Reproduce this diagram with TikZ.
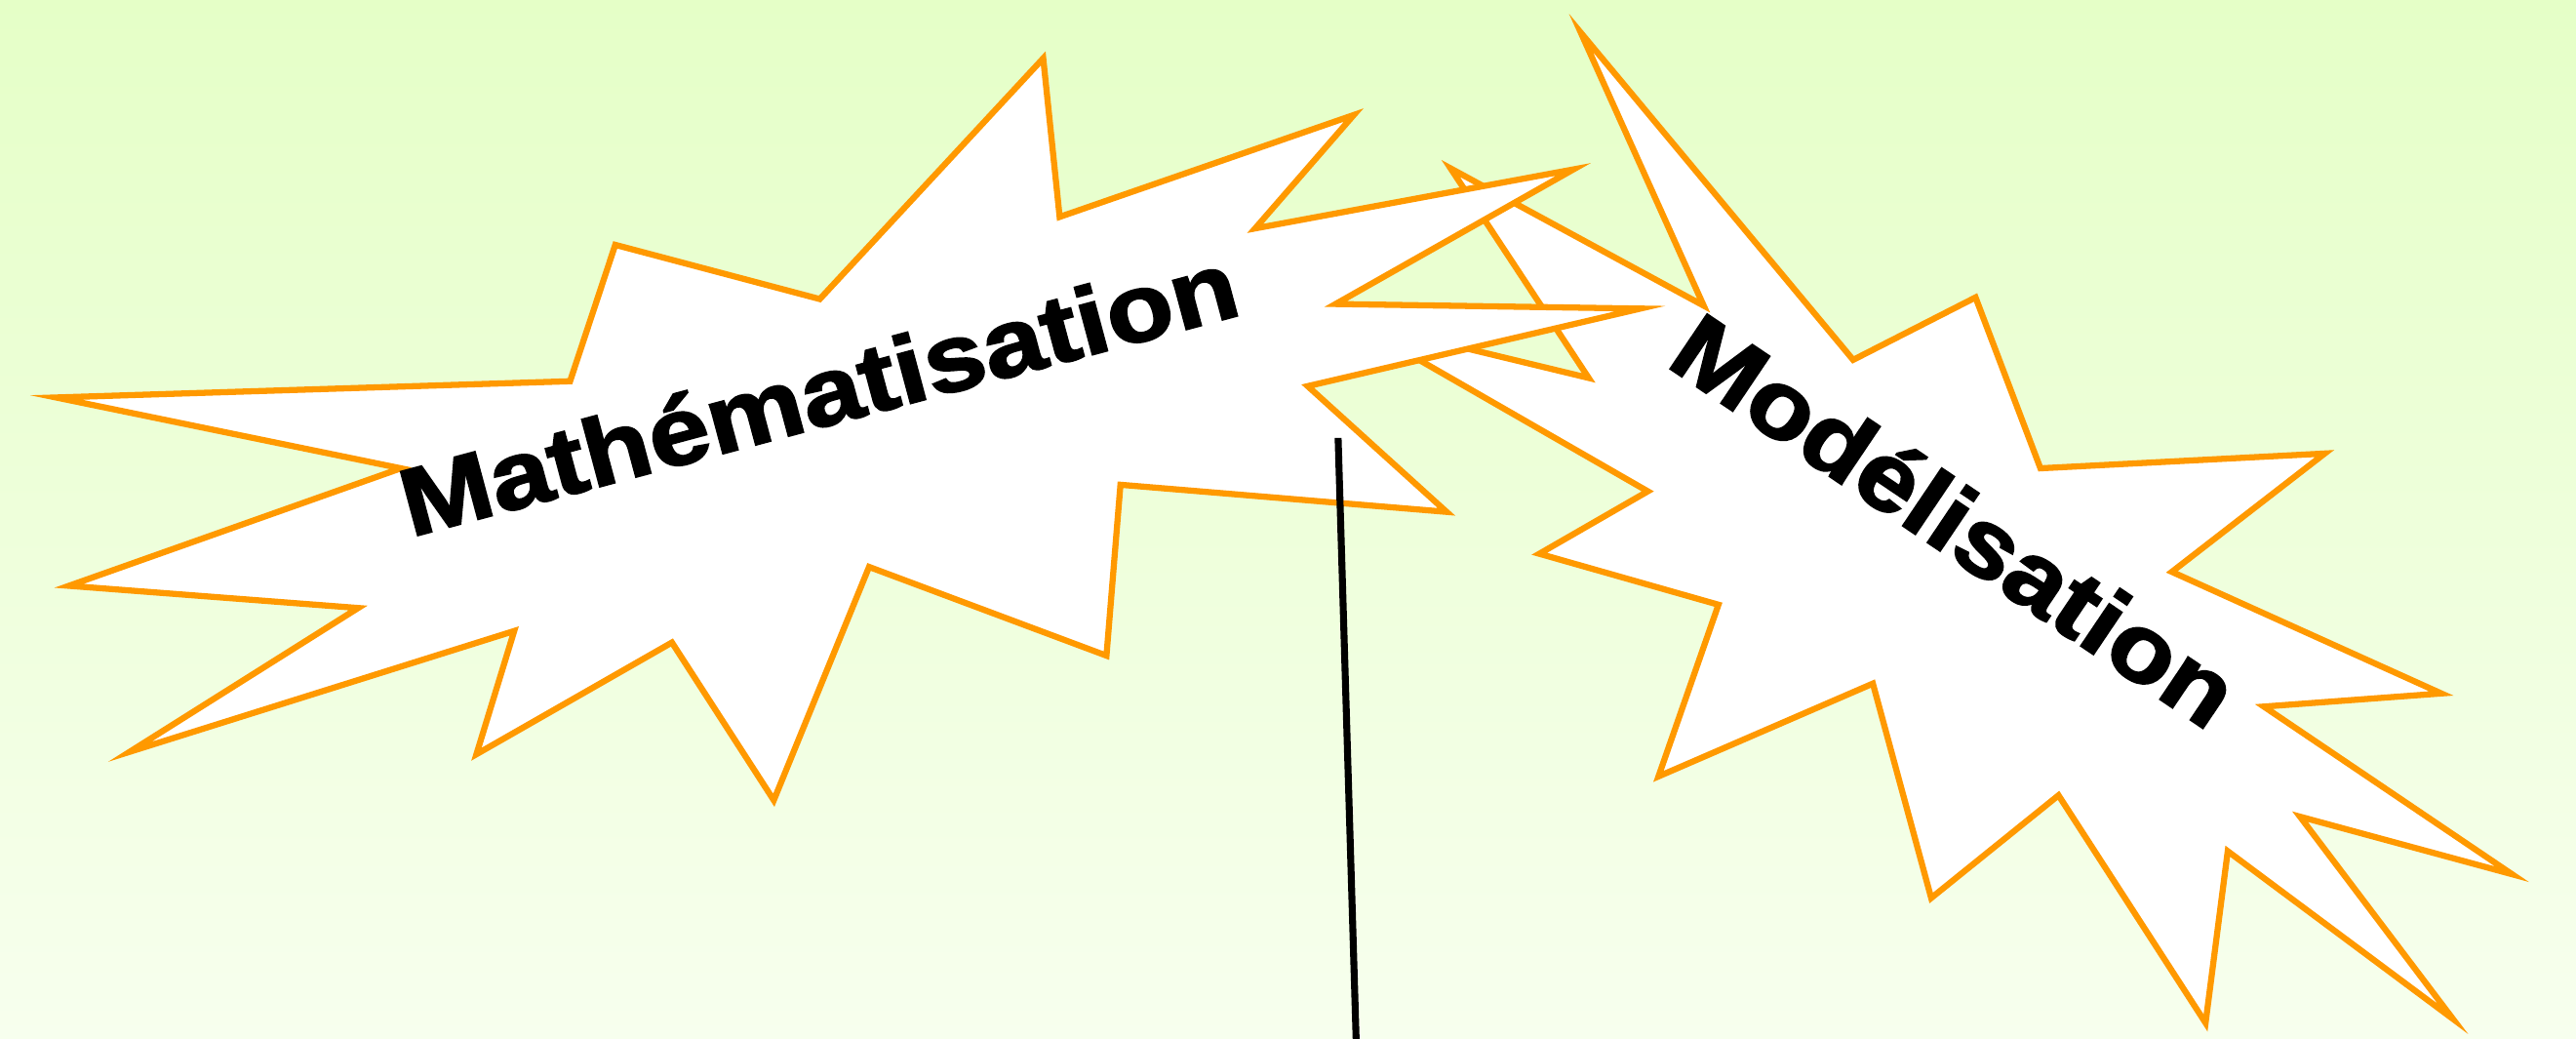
\documentclass[tikz,border=0pt]{standalone}
\usepackage{fontspec}
\usepackage{graphicx}
\setmainfont{Liberation Sans}
\newfontfamily\heavyfont[FakeBold=2]{Liberation Sans Bold}
\definecolor{orng}{RGB}{255,153,0}
\definecolor{bgtop}{RGB}{229,255,199}
\definecolor{bgbot}{RGB}{247,255,238}
\begin{document}
\begin{tikzpicture}[x=0.05cm,y=-0.05cm,
  burst/.style={draw=orng, fill=white, line width=5.3pt, line join=miter, miter limit=20},
  label/.style={rotate=#1, anchor=base west, inner sep=0pt, text=black,
    font=\heavyfont\fontsize{83}{90}\selectfont},
  pole/.style={draw=black, line width=6pt}]
\useasboundingbox (0,0) rectangle (1568,632);
\shade[top color=bgtop, bottom color=bgbot] (0,0) rectangle (1568,632);
% Modelisation burst (behind)
\draw[burst] (962.3,20) -- (1037,186) -- (883,102.5) -- (967,230) -- (822,195) -- (1003,299)
  -- (937,337) -- (1046,368) -- (1009.5,472.5) -- (1140,416) -- (1175.5,546.5) -- (1253,484)
  -- (1342.5,622.5) -- (1356,518) -- (1493,620) -- (1400,497) -- (1529,532) -- (1378,430)
  -- (1486,422) -- (1322,348) -- (1415,276) -- (1242,285) -- (1202.5,181) -- (1128,219) -- cycle;
% Mathematisation burst (front)
\draw[burst] (34.2,241.9) -- (347,232) -- (374.5,149) -- (499,182) -- (635,35.5) -- (645,132)
  -- (824,70) -- (764,139) -- (957.7,103.1) -- (813,185) -- (998.5,187.8) -- (796,235)
  -- (880.5,311.5) -- (682,295) -- (673.5,399) -- (529,345) -- (471,487) -- (409,391)
  -- (290,459) -- (313,384) -- (79,457.5) -- (218,370) -- (42,356.5) -- (244,285) -- cycle;
\node[label=15] (math) at (250,327) {\scalebox{1.14}[1]{Mathématisation}};
\node[label=-34] (mod) at (1013,222) {\scalebox{1.12}[1]{Modélisation}};
\coordinate (ptop) at (814.5,266.5);
\coordinate (pbot) at (825.5,634);
\draw[pole] (ptop) -- (pbot);
\end{tikzpicture}
\end{document}
